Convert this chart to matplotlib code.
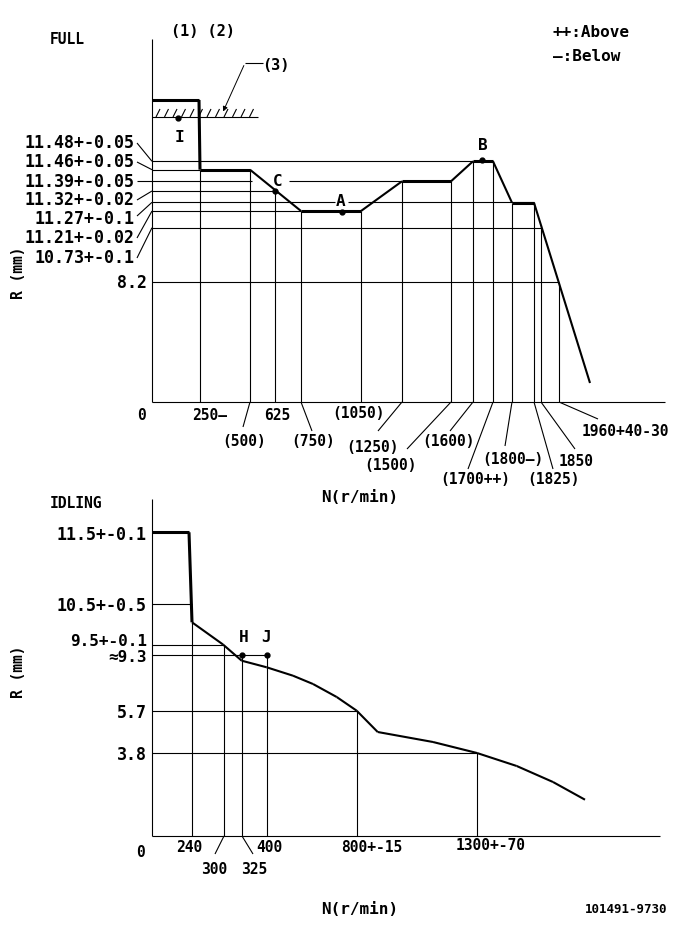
import matplotlib
matplotlib.use("Agg")
import matplotlib.pyplot as plt
import numpy as np

plt.rcParams['font.family'] = ['DejaVu Sans Mono', 'DejaVu Sans']
plt.rcParams['font.weight'] = 'bold'

# ---------------- FULL chart (schematic sheet, pixel layout) ----------------
full_rack_labels = ["11.48+-0.05", "11.46+-0.05", "11.39+-0.05", "11.32+-0.02",
                    "11.27+-0.1", "11.21+-0.02", "10.73+-0.1", "8.2"]
full_rack_pos = [162.3, 170.7, 182.3, 192, 203.3, 212, 228.7, 283.3]
full_rack_label_y = [143, 162, 182, 200, 219, 238, 258, 283]
full_rack_line_end = [473, 200, 402, 275, 534, 301, 541, 559]

full_speed_labels = ["250—", "(500)", "625", "(750)", "(1050)", "(1250)", "(1500)",
                     "(1600)", "(1700++)", "(1800—)", "(1825)", "1850", "1960+40-30"]
full_speed_pos = [200, 250, 275, 301, 361, 402, 451, 473, 493, 512, 534, 541, 559]
full_label_xy = [(210, 416), (244, 442), (277, 416), (313, 442), (359, 413), (373, 447),
                 (391, 465), (449, 441), (475, 480), (513, 460), (554, 480), (576, 462),
                 (625, 431)]
full_leader_end = [None, (243, 428), None, (312, 432), None, (378, 432), (407, 450),
                   (450, 432), (468, 470), (505, 447), (553, 470), (575, 450), (598, 420)]

# governor curve
full_curve_x = [152, 199, 200, 250, 301, 361, 402, 451, 473, 493, 512, 534, 590]
full_curve_y = [101, 101, 170.7, 170.7, 212, 212, 182.3, 182.3, 162.3, 162.3, 203.7, 203.7, 384]

full_points = {"I": (178, 119), "C": (275, 192), "A": (342, 212.5), "B": (482, 161)}
full_point_text = {"I": (179, 137), "C": (278, 181), "A": (341, 201), "B": (483, 145)}

# ---------------- IDLING chart ----------------
idle_rack_labels = ["11.5+-0.1", "10.5+-0.5", "9.5+-0.1", "≈9.3", "5.7", "3.8"]
idle_rack_pos = [533.3, 605, 646.3, 656.3, 712, 754]
idle_rack_label_y = [535, 606, 641, 657.5, 713, 755]
idle_rack_line_end = [152, 192, 224, 267, 357, 477]

idle_speed_labels = ["240", "300", "325", "400", "800+-15", "1300+-70"]
idle_speed_pos = [192, 224, 242, 267, 357, 477]
idle_speed_top = [623.3, 646.3, 656.3, 656.3, 712, 754]
idle_label_xy = [(189, 848), (214, 870), (254, 870), (269, 848), (372, 848), (491, 846)]
idle_leader_end = [None, (215, 855), (253, 855), None, None, None]

idle_curve_x = [152, 189, 192, 223, 241.7, 266.7, 293, 313, 336.7, 356.7, 377.7,
                433, 477, 516.7, 553, 585]
idle_curve_y = [533.3, 533.3, 623.3, 645.5, 661.7, 668.3, 676.7, 685, 698, 711.7, 733,
                743, 754, 767, 783, 800.7]

idle_points = {"H": (242, 656.3), "J": (267, 656.3)}
idle_point_text = {"H": (244, 638), "J": (266, 638)}

fig = plt.figure(figsize=(6.85, 9.29), dpi=100)
ax = fig.add_axes([0, 0, 1, 1])
ax.set_xlim(0, 685)
ax.set_ylim(929, 0)
ax.axis('off')

thin = 0.8
k = 'black'
ysz = 12     # rack labels
xsz = 10.5   # speed labels

def line(xs, ys, lw=thin):
    ax.plot(xs, ys, color=k, lw=lw, solid_capstyle='butt')

def curve(xs, ys, lw_flat, lw_slope):
    for i in range(len(xs) - 1):
        flat = ys[i] == ys[i + 1] or abs(xs[i] - xs[i + 1]) < 4
        line(xs[i:i + 2], ys[i:i + 2], lw_flat if flat else lw_slope)

# ---- FULL ----
line([152, 152], [40, 403])
line([152, 665], [403, 403])
ax.text(50, 39, "FULL", fontsize=10.5, va='center', ha='left')
ax.text(203, 31, "(1) (2)", fontsize=11, va='center', ha='center')
ax.text(553, 32, "++:Above", fontsize=11.5, va='center', ha='left')
ax.text(553, 56, "—:Below", fontsize=11.5, va='center', ha='left')
ax.text(19, 273, "R (mm)", fontsize=10.5, rotation=90, va='center', ha='center')
ax.text(360, 498, "N(r/min)", fontsize=11.5, va='center', ha='center')

for lab, yp, ly, xe in zip(full_rack_labels, full_rack_pos, full_rack_label_y, full_rack_line_end):
    if lab == "8.2":
        ax.text(147, ly, lab, fontsize=ysz, va='center', ha='right')
        line([152, xe], [yp, yp])
        continue
    ax.text(135, ly, lab, fontsize=ysz, va='center', ha='right')
    if lab.startswith("11.39"):
        line([137, 252], [yp, yp])
        line([289, xe], [yp, yp])
    elif lab.startswith("11.27"):
        line([137, 152], [ly - 2, yp])
        line([152, 335], [yp, yp])
        line([348, xe], [yp, yp])
    else:
        line([137, 152], [ly + 1, yp])
        line([152, xe], [yp, yp])

for xp in full_speed_pos:
    top = np.interp(xp, full_curve_x, full_curve_y)
    line([xp, xp], [403, top])

ax.text(141.7, 416, "0", fontsize=xsz, va='center', ha='center')
for lab, (tx, ty), le, xp in zip(full_speed_labels, full_label_xy, full_leader_end, full_speed_pos):
    ax.text(tx, ty, lab, fontsize=xsz, va='center', ha='center')
    if le is not None:
        line([xp, le[0]], [403, le[1]])

# stopper (3)
line([152, 258], [118, 118])
for hx in np.arange(156, 256, 8.5):
    line([hx, hx + 4], [118, 110])
line([245, 263], [64, 64])
ax.annotate('', xy=(222, 115), xytext=(245, 64),
            arrowprops=dict(arrowstyle='-|>', lw=0.7, color=k, mutation_scale=7))
ax.text(276, 65, "(3)", fontsize=11, va='center', ha='center')

curve(full_curve_x, full_curve_y, 2.2, 1.5)

for key, (px, py) in full_points.items():
    ax.plot(px, py, 'o', color=k, ms=3.5)
    tx, ty = full_point_text[key]
    ax.text(tx, ty, key, fontsize=11.5, va='center', ha='center')

# ---- IDLING ----
line([152, 152], [500, 837])
line([152, 660], [837, 837])
ax.text(50, 504, "IDLING", fontsize=10.5, va='center', ha='left')
ax.text(19, 672, "R (mm)", fontsize=10.5, rotation=90, va='center', ha='center')
ax.text(360, 910, "N(r/min)", fontsize=11.5, va='center', ha='center')
ax.text(667, 910, "101491-9730", fontsize=9, va='center', ha='right')

for lab, yp, ly, xe in zip(idle_rack_labels, idle_rack_pos, idle_rack_label_y, idle_rack_line_end):
    ax.text(147, ly, lab, fontsize=11.5 if lab[0] in "9≈" else ysz, va='center', ha='right')
    if xe > 152:
        line([152, xe], [yp, yp])

for xp, top in zip(idle_speed_pos, idle_speed_top):
    line([xp, xp], [837, top])

ax.text(141, 853, "0", fontsize=xsz, va='center', ha='center')
for lab, (tx, ty), le, xp in zip(idle_speed_labels, idle_label_xy, idle_leader_end, idle_speed_pos):
    ax.text(tx, ty, lab, fontsize=xsz, va='center', ha='center')
    if le is not None:
        line([xp, le[0]], [837, le[1]])

curve(idle_curve_x, idle_curve_y, 2.2, 1.5)

for key, (px, py) in idle_points.items():
    ax.plot(px, py, 'o', color=k, ms=3.5)
    tx, ty = idle_point_text[key]
    ax.text(tx, ty, key, fontsize=11.5, va='center', ha='center')

fig.savefig("out.png", dpi=100)
